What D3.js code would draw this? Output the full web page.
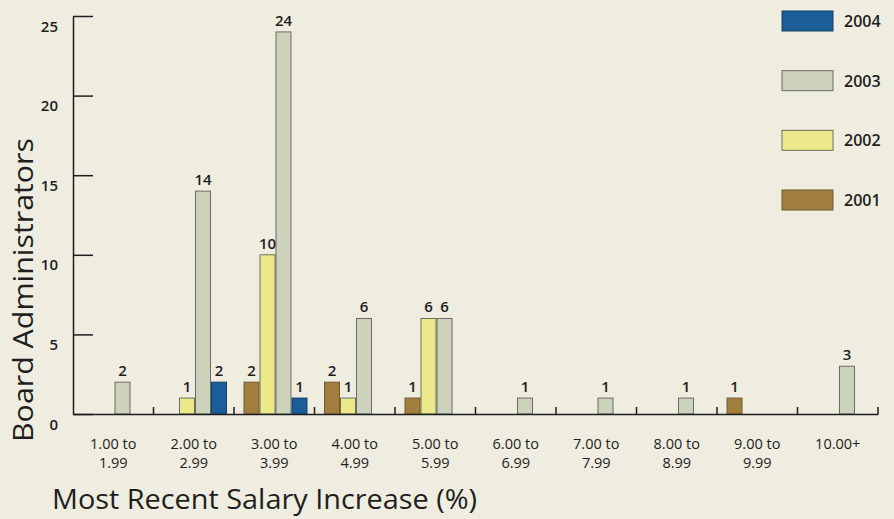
<!DOCTYPE html>
<html>
<head>
<meta charset="utf-8">
<script src="https://cdn.jsdelivr.net/npm/d3@7"></script>
<style>
  html, body { margin: 0; padding: 0; background: #eeeddf; }
  svg { display: block; }
  text { font-family: "Open Sans", "Noto Sans", sans-serif; fill: #1e1e1e; }
</style>
</head>
<body>
<svg id="chart" width="894" height="519"></svg>
<script>
const categories = ["1.00 to 1.99", "2.00 to 2.99", "3.00 to 3.99", "4.00 to 4.99", "5.00 to 5.99",
                    "6.00 to 6.99", "7.00 to 7.99", "8.00 to 8.99", "9.00 to 9.99", "10.00+"];
const years = ["2001", "2002", "2003", "2004"];
const values2001 = [0, 0, 2, 2, 1, 0, 0, 0, 1, 0];
const values2002 = [0, 1, 10, 1, 6, 0, 0, 0, 0, 0];
const values2003 = [2, 14, 24, 6, 6, 1, 1, 1, 0, 3];
const values2004 = [0, 2, 1, 0, 0, 0, 0, 0, 0, 0];
const yTicks = [0, 5, 10, 15, 20, 25];
const legendOrder = ["2004", "2003", "2002", "2001"];
const yTitle = "Board Administrators";
const xTitle = "Most Recent Salary Increase (%)";

const seriesByYear = { "2001": values2001, "2002": values2002, "2003": values2003, "2004": values2004 };
const fills = { "2001": "#a27f3f", "2002": "#ece98b", "2003": "#cdd2bd", "2004": "#1b5d99" };
const strokes = { "2001": "#6f5a2e", "2002": "#6e6e5e", "2003": "#6b6b63", "2004": "#163f66" };

const svg = d3.select("#chart");

const x0 = d3.scaleBand().domain(categories).range([73, 878]).padding(0);
const x1 = d3.scaleBand().domain(years).range([9.5, 73.5]).padding(0);
const y = d3.scaleLinear().domain([0, 25]).range([414, 16]);

// bars
const data = [];
categories.forEach((c, i) => {
  years.forEach(yr => {
    data.push({ cat: c, year: yr, v: seriesByYear[yr][i] });
  });
});
const nonZero = data.filter(d => d.v > 0);

svg.append("g").selectAll("rect").data(nonZero).join("rect")
  .attr("x", d => x0(d.cat) + x1(d.year) + 0.5)
  .attr("y", d => y(d.v))
  .attr("width", x1.bandwidth() - 1)
  .attr("height", d => y(0) - y(d.v))
  .attr("fill", d => fills[d.year])
  .attr("stroke", d => strokes[d.year])
  .attr("stroke-width", 1);

svg.append("g").selectAll("text").data(nonZero).join("text")
  .attr("x", d => x0(d.cat) + x1(d.year) + x1.bandwidth() / 2)
  .attr("y", d => y(d.v) - 6)
  .attr("text-anchor", "middle")
  .attr("font-size", 15)
  .attr("font-weight", 600)
  .text(d => d.v);

// y axis
const yAxis = d3.axisLeft(y).tickValues(yTicks).tickSizeInner(-20).tickSizeOuter(0).tickPadding(15);
const gy = svg.append("g").attr("transform", "translate(73,0)").call(yAxis);
gy.select(".domain").attr("stroke", "#1e1e1e").attr("stroke-width", 1.5);
gy.selectAll(".tick line").attr("stroke", "#1e1e1e").attr("stroke-width", 1.5);
gy.selectAll(".tick text")
  .attr("font-family", "'Open Sans', sans-serif")
  .attr("font-size", 15)
  .attr("font-weight", 600)
  .attr("fill", "#1e1e1e")
  .attr("dy", "1.0em");

// x axis
const xAxis = d3.axisBottom(x0).tickSize(0).tickPadding(0).tickFormat(() => "");
const gx = svg.append("g").attr("transform", "translate(0,414)").call(xAxis);
gx.select(".domain").attr("stroke", "#1e1e1e").attr("stroke-width", 1.5);
gx.selectAll(".tick text").remove();

// boundary ticks
svg.append("g").selectAll("line").data(categories).join("line")
  .attr("x1", d => x0(d) + x0.bandwidth())
  .attr("x2", d => x0(d) + x0.bandwidth())
  .attr("y1", 414)
  .attr("y2", 407)
  .attr("stroke", "#1e1e1e")
  .attr("stroke-width", 1.5);

// category labels (two lines each)
const catLabels = svg.append("g").selectAll("g").data(categories).join("g");
catLabels.each(function(d) {
  const parts = d.split(" to ");
  const cx = x0(d) + x0.bandwidth() / 2;
  const g = d3.select(this);
  const lines = parts.length === 2 ? [parts[0] + " to", parts[1]] : [d];
  lines.forEach((ln, k) => {
    g.append("text")
      .attr("x", cx)
      .attr("y", 449 + k * 19)
      .attr("text-anchor", "middle")
      .attr("font-size", 14.5)
      .text(ln);
  });
});

// titles
svg.append("text")
  .attr("x", 52).attr("y", 509)
  .attr("font-size", 27)
  .attr("textLength", 425)
  .attr("lengthAdjust", "spacingAndGlyphs")
  .text(xTitle);

svg.append("text")
  .attr("transform", "translate(33,442) rotate(-90)")
  .attr("font-size", 27)
  .attr("textLength", 304)
  .attr("lengthAdjust", "spacingAndGlyphs")
  .text(yTitle);

// legend
const legendY = d3.scalePoint().domain(legendOrder).range([11, 190]);
const lg = svg.append("g").selectAll("g").data(legendOrder).join("g")
  .attr("transform", d => `translate(782,${legendY(d)})`);
lg.append("rect")
  .attr("width", 51).attr("height", 20)
  .attr("fill", d => fills[d])
  .attr("stroke", d => strokes[d])
  .attr("stroke-width", 1);
lg.append("text")
  .attr("x", 62).attr("y", 16)
  .attr("font-size", 16)
  .attr("font-weight", 600)
  .text(d => d);
</script>
</body>
</html>
